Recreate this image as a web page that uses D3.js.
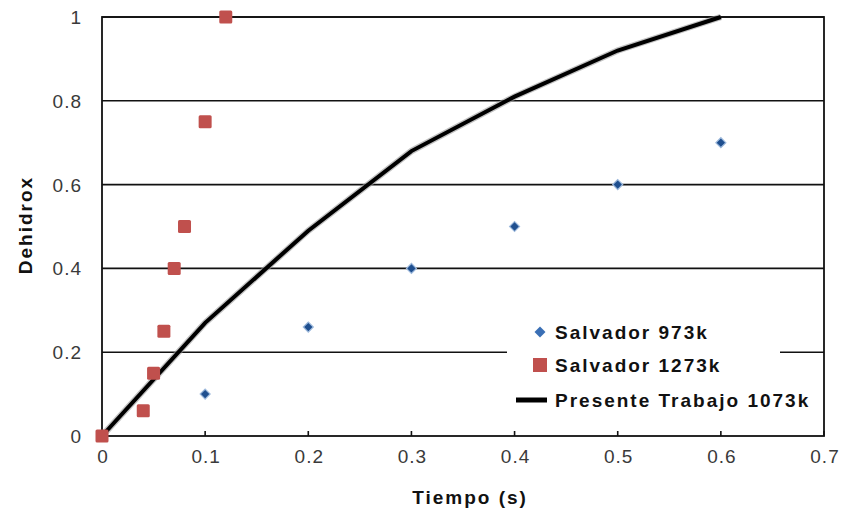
<!DOCTYPE html>
<html lang="es">
    <head>
        <meta charset="utf-8">
        <title>Dehidrox vs Tiempo</title>
        <script type="text/javascript" src="https://cdn.jsdelivr.net/npm/d3@7"></script>
        <style>
            body { margin: 0; background: #fff; }
            svg { display: block; }
        </style>
    </head>
    <body>
        <script type="text/javascript">
        // Salvador 973k (blue diamonds)
        var t973 = [0.1, 0.2, 0.3, 0.4, 0.5, 0.6];
        var d973 = [0.1, 0.26, 0.4, 0.5, 0.6, 0.7];
        // Salvador 1273k (red squares)
        var t1273 = [0, 0.04, 0.05, 0.06, 0.07, 0.08, 0.1, 0.12];
        var d1273 = [0, 0.06, 0.15, 0.25, 0.4, 0.5, 0.75, 1.0];
        // Presente Trabajo 1073k (line)
        var t1073 = [0, 0.1, 0.2, 0.3, 0.4, 0.5, 0.6];
        var d1073 = [0, 0.27, 0.49, 0.68, 0.81, 0.92, 1.0];

        var xTicks = [0, 0.1, 0.2, 0.3, 0.4, 0.5, 0.6, 0.7];
        var yTicks = [0, 0.2, 0.4, 0.6, 0.8, 1];
        var legendNames = ["Salvador 973k", "Salvador 1273k", "Presente Trabajo 1073k"];

        var w = 841;
        var h = 514;
        var pLeft = 102, pRight = 824, pTop = 17, pBottom = 436;

        var x = d3.scaleLinear().domain([0, 0.7]).range([pLeft, pRight]);
        var y = d3.scaleLinear().domain([0, 1]).range([pBottom, pTop]);

        var svg = d3.select("body")
                    .append("svg")
                    .attr("width", w)
                    .attr("height", h)
                    .style("font-family", "'Liberation Sans', Arial, sans-serif");

        // horizontal gridlines
        svg.selectAll("line.grid")
            .data(yTicks.slice(1))
            .enter()
            .append("line")
            .attr("class", "grid")
            .attr("x1", pLeft)
            .attr("x2", pRight)
            .attr("y1", function(d) { return y(d); })
            .attr("y2", function(d) { return y(d); })
            .attr("stroke", "#111")
            .attr("stroke-width", 1.6);

        // frame
        svg.append("rect")
            .attr("x", pLeft)
            .attr("y", pTop)
            .attr("width", pRight - pLeft)
            .attr("height", pBottom - pTop)
            .attr("fill", "none")
            .attr("stroke", "#111")
            .attr("stroke-width", 1.8);

        // x ticks (inside) and labels
        svg.selectAll("line.xt")
            .data(xTicks)
            .enter()
            .append("line")
            .attr("class", "xt")
            .attr("x1", function(d) { return x(d); })
            .attr("x2", function(d) { return x(d); })
            .attr("y1", pBottom)
            .attr("y2", pBottom - 5)
            .attr("stroke", "#111")
            .attr("stroke-width", 1.6);

        svg.selectAll("text.xl")
            .data(xTicks)
            .enter()
            .append("text")
            .attr("class", "xl")
            .text(function(d) { return d; })
            .attr("x", function(d) { return x(d) + 1; })
            .attr("y", pBottom + 27)
            .attr("text-anchor", "middle")
            .attr("font-size", "19px")
            .attr("letter-spacing", "1px")
            .attr("fill", "#3a3a3a");

        svg.selectAll("text.yl")
            .data(yTicks)
            .enter()
            .append("text")
            .attr("class", "yl")
            .text(function(d) { return d; })
            .attr("x", 82)
            .attr("y", function(d) { return y(d) + 7; })
            .attr("text-anchor", "end")
            .attr("font-size", "19px")
            .attr("letter-spacing", "1px")
            .attr("fill", "#3a3a3a");

        // axis titles
        svg.append("text")
            .text("Tiempo (s)")
            .attr("x", 470)
            .attr("y", 504)
            .attr("text-anchor", "middle")
            .attr("font-size", "19px")
            .attr("font-weight", "bold")
            .attr("letter-spacing", "2px")
            .attr("fill", "#111");

        svg.append("text")
            .text("Dehidrox")
            .attr("transform", "translate(32,225) rotate(-90)")
            .attr("text-anchor", "middle")
            .attr("font-size", "19px")
            .attr("font-weight", "bold")
            .attr("letter-spacing", "2px")
            .attr("fill", "#111");

        // line series
        var line = d3.line()
            .x(function(d) { return x(d[0]); })
            .y(function(d) { return y(d[1]); });
        var lineData = t1073.map(function(t, i) { return [t, d1073[i]]; });

        svg.append("path")
            .datum(lineData)
            .attr("d", line)
            .attr("fill", "none")
            .attr("stroke", "#999")
            .attr("stroke-width", 6.5)
            .attr("stroke-opacity", 0.6);
        svg.append("path")
            .datum(lineData)
            .attr("d", line)
            .attr("fill", "none")
            .attr("stroke", "#000")
            .attr("stroke-width", 4);

        // blue diamonds (squares turned 45deg)
        var diamond = d3.symbol().type(d3.symbolSquare).size(50);
        svg.selectAll("path.s973")
            .data(t973)
            .enter()
            .append("path")
            .attr("class", "s973")
            .attr("d", diamond)
            .attr("transform", function(d, i) {
                return "translate(" + x(d) + "," + y(d973[i]) + ") rotate(45)";
            })
            .attr("fill", "#1f4f8f")
            .attr("stroke", "#9db9dc")
            .attr("stroke-width", 1.2);

        // red squares
        var sq = 13;
        svg.selectAll("rect.s1273")
            .data(t1273)
            .enter()
            .append("rect")
            .attr("class", "s1273")
            .attr("x", function(d) { return x(d) - sq / 2; })
            .attr("y", function(d, i) { return y(d1273[i]) - sq / 2; })
            .attr("width", sq)
            .attr("height", sq)
            .attr("rx", 1.5)
            .attr("fill", "#c0504d");

        // legend
        var lg = svg.append("g").attr("transform", "translate(507,310)");
        lg.append("rect")
            .attr("x", 0)
            .attr("y", 0)
            .attr("width", 273)
            .attr("height", 112)
            .attr("fill", "#fff");

        var rowY = [22, 55, 90];
        lg.selectAll("text")
            .data(legendNames)
            .enter()
            .append("text")
            .text(function(d) { return d; })
            .attr("x", 48)
            .attr("y", function(d, i) { return rowY[i] + 7; })
            .attr("font-size", "19px")
            .attr("font-weight", "bold")
            .attr("letter-spacing", "2px")
            .attr("fill", "#111");

        lg.append("path")
            .attr("d", d3.symbol().type(d3.symbolSquare).size(60))
            .attr("transform", "translate(33," + rowY[0] + ") rotate(45)")
            .attr("fill", "#3a6fb5");
        lg.append("rect")
            .attr("x", 26)
            .attr("y", rowY[1] - 7)
            .attr("width", 14)
            .attr("height", 14)
            .attr("fill", "#c0504d");
        lg.append("line")
            .attr("x1", 9)
            .attr("x2", 40)
            .attr("y1", rowY[2])
            .attr("y2", rowY[2])
            .attr("stroke", "#000")
            .attr("stroke-width", 5);
        </script>
    </body>
</html>
